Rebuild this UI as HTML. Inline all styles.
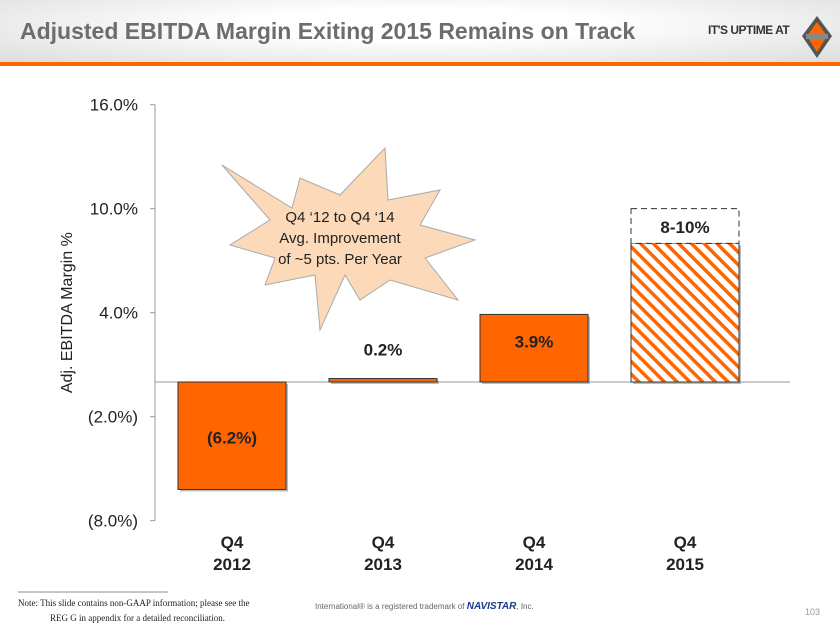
<!DOCTYPE html>
<html><head><meta charset="utf-8"><style>
body{margin:0;width:840px;height:630px;overflow:hidden;background:#fff;font-family:"Liberation Sans",Arial,sans-serif;position:relative}
.hdr{position:absolute;left:0;top:0;width:840px;height:62px;background:radial-gradient(ellipse at 50% 40%,#fff 30%,#ddd 100%)}
.title{position:absolute;left:20px;top:18px;font-size:23px;font-weight:bold;color:#6d6d6d}
.bar{position:absolute;left:0;top:62px;width:840px;height:4px;background:#f60}
.logo{position:absolute;left:708px;top:23px;font-size:12px;font-weight:bold;color:#333;letter-spacing:-0.5px}
</style></head><body>
<div class="hdr"></div>
<div class="title">Adjusted EBITDA Margin Exiting 2015 Remains on Track</div>
<div class="bar"></div>
<div class="logo">IT'S UPTIME AT</div>
<svg style="position:absolute;left:800px;top:14px" width="34" height="46"><polygon points="17,2 32,22 17,44 2,22" fill="#555"/><polygon points="17,8 27,22 17,38 7,22" fill="#f60"/><rect x="6" y="20" width="22" height="5" fill="#888"/></svg>
<svg id="chart" width="840" height="630" style="position:absolute;left:0;top:0">
<defs><pattern id="hatch" width="9" height="9" patternUnits="userSpaceOnUse" patternTransform="rotate(-45)"><rect width="9" height="9" fill="#fff"/><rect width="3.5" height="9" fill="#f60"/></pattern></defs>
</svg>
<svg width="840" height="630" style="position:absolute;left:0;top:0;pointer-events:none">
<polygon points="222,165 292,208 300,178 340,195 385,148 388,200 440,190 420,225 475,240 425,258 458,300 390,280 360,300 345,275 320,330 315,275 265,285 275,258 230,245 270,220" fill="#fcd9b8" stroke="#aaa" stroke-width="1"/>
<text x="340" y="222" text-anchor="middle" font-size="15" fill="#222" font-family="Liberation Sans">Q4 ‘12 to Q4 ‘14</text>
<text x="340" y="243" text-anchor="middle" font-size="15" fill="#222" font-family="Liberation Sans">Avg. Improvement</text>
<text x="340" y="264" text-anchor="middle" font-size="15" fill="#222" font-family="Liberation Sans">of ~5 pts. Per Year</text>
<line x1="18" y1="592" x2="168" y2="592" stroke="#888"/>
<text x="18" y="606" font-size="9" font-family="Liberation Serif" fill="#222">Note:   This slide contains non-GAAP information; please see the</text>
<text x="50" y="621" font-size="9" font-family="Liberation Serif" fill="#222">REG G in appendix for a detailed reconciliation.</text>
<text x="315" y="609" font-size="8" fill="#666" font-family="Liberation Sans">International® is a registered trademark of <tspan font-weight="bold" font-style="italic" fill="#1a3a8a" font-size="10">NAVISTAR</tspan>, Inc.</text>
<text x="805" y="615" font-size="9" fill="#999" font-family="Liberation Sans">103</text>
</svg>
<script>
const categories=["Q4|2012","Q4|2013","Q4|2014","Q4|2015"];
const values=[-6.2,0.2,3.9,8];
const labels=["(6.2%)","0.2%","3.9%","8-10%"];
const rangeTop=[null,null,null,10];
const ticks=[16,10,4,-2,-8];
const tickLabels=["16.0%","10.0%","4.0%","(2.0%)","(8.0%)"];
const NS="http://www.w3.org/2000/svg";
const svg=document.getElementById('chart');
const y=v=>382-v*(104/6);
const x0=i=>178+i*151;
const bw=108;
function mk(t,a){const e=document.createElementNS(NS,t);for(const k in a)e.setAttribute(k,a[k]);svg.appendChild(e);return e;}
let ax=mk('line',{x1:155,y1:y(16),x2:155,y2:y(-8),stroke:'#999'});


let zl=mk('line',{x1:155,y1:y(0),x2:790,y2:y(0),stroke:'#999'});


ticks.forEach((t,i)=>{
 mk('line',{x1:150,y1:y(t),x2:155,y2:y(t),stroke:'#999'});
 const tx=mk('text',{x:138,y:y(t)+6,'text-anchor':'end','font-size':17,fill:'#222'});
 tx.textContent=tickLabels[i];
 
 
});
const yt=mk('text',{x:0,y:0,transform:`translate(72,${y(4)}) rotate(-90)`,'text-anchor':'middle','font-size':16,fill:'#222'});
yt.textContent='Adj. EBITDA Margin %';


values.forEach((v,i)=>{
 const top=Math.min(y(v),y(0)),h=Math.abs(y(v)-y(0));
 const hatched=rangeTop[i]!==null;
 mk('rect',{x:x0(i)+2,y:top+2,width:bw,height:h,fill:'#777',opacity:0.5});
 const r=mk('rect',{x:x0(i),y:top,width:bw,height:h,fill:hatched?'url(#hatch)':'#f60',stroke:'#333','stroke-width':1});
 
 
 if(hatched){
  const d=mk('rect',{x:x0(i),y:y(rangeTop[i]),width:bw,height:y(v)-y(rangeTop[i]),fill:'#fff',stroke:'#333','stroke-dasharray':'6,4'});
  
  
 }
 let ly;
 if(hatched) ly=(y(rangeTop[i])+y(v))/2+7;
 else if(v<0) ly=y(v/2)+8;
 else if(h<20) ly=y(v)-23;
 else ly=y(v)+33;
 const lt=mk('text',{x:x0(i)+bw/2,y:ly,'text-anchor':'middle','font-size':17,'font-weight':'bold',fill:'#222'});
 lt.textContent=labels[i];
 
 
 categories[i].split('|').forEach((s,k)=>{
  const c=mk('text',{x:x0(i)+bw/2,y:548+k*22,'text-anchor':'middle','font-size':17,'font-weight':'bold',fill:'#222'});
  c.textContent=s;
  
  
 });
});
</script>
</body></html>
